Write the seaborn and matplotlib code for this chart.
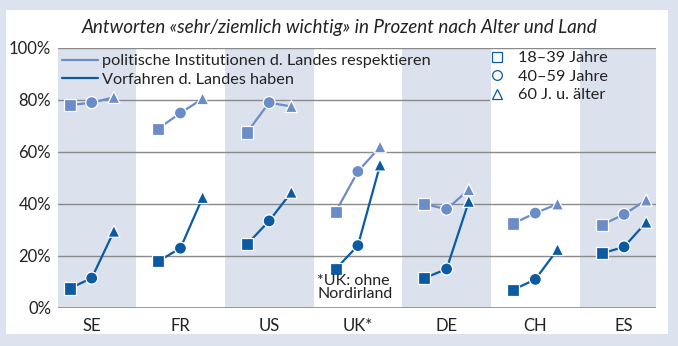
import numpy as np
import pandas as pd
import matplotlib
matplotlib.use("Agg")
import matplotlib.pyplot as plt
from matplotlib.lines import Line2D
from matplotlib.patches import Rectangle
import seaborn as sns

countries = ["SE", "FR", "US", "UK*", "DE", "CH", "ES"]
ages = ["18–39 Jahre", "40–59 Jahre", "60 J. u. älter"]
series_names = ["politische Institutionen d. Landes respektieren", "Vorfahren d. Landes haben"]
institutionen = [
    [78, 79, 81],
    [69, 75, 80.5],
    [67.5, 79, 77.5],
    [37, 52.5, 62],
    [40, 38, 45.5],
    [32.5, 36.5, 40],
    [32, 36, 41.5],
]
vorfahren = [
    [7.5, 11.5, 29.5],
    [18, 23, 42.5],
    [24.5, 33.5, 44.5],
    [15, 24, 55],
    [11.5, 15, 41],
    [7, 11, 22.5],
    [21, 23.5, 33],
]
yticks = [0, 20, 40, 60, 80, 100]
ytick_labels = ["0%", "20%", "40%", "60%", "80%", "100%"]

rows = []
for ci, c in enumerate(countries):
    for ai, a in enumerate(ages):
        rows.append(dict(country=c, ci=ci, age=a, ai=ai, series=series_names[0], value=institutionen[ci][ai]))
        rows.append(dict(country=c, ci=ci, age=a, ai=ai, series=series_names[1], value=vorfahren[ci][ai]))
df = pd.DataFrame(rows)
offsets = {0: -0.25, 1: 0.0, 2: 0.25}
df["x"] = df["ci"] + df["ai"].map(offsets)

sns.set_theme(style="white")
plt.rcParams["font.family"] = ["Lato", "DejaVu Sans"]

light = "#6a8cc8"
dark = "#0b5aa2"
band = "#dce1ee"
bg = "#dde2ef"
txt = "#222222"
colors = {series_names[0]: light, series_names[1]: dark}
markers = {ages[0]: "s", ages[1]: "o", ages[2]: "^"}

fig = plt.figure(figsize=(6.78, 3.46), dpi=100, facecolor=bg)
bgax = fig.add_axes([0, 0, 1, 1], zorder=-5)
bgax.set_axis_off()
bgax.set_xlim(0, 678)
bgax.set_ylim(346, 0)
bgax.add_patch(Rectangle((6, 10), 662, 324, facecolor="white", edgecolor="none"))

AX_L, AX_W = 58, 598
ax = fig.add_axes([AX_L / 678, 1 - 308 / 346, AX_W / 678, 260 / 346], zorder=1)
ax.set_facecolor("none")

xmin, xmax = -0.38, 6.36
ax.set_xlim(xmin, xmax)
ax.set_ylim(0, 100)

for ci in range(len(countries)):
    if ci % 2 == 0:
        ax.axvspan(ci - 0.5, ci + 0.5, color=band, lw=0, zorder=0)

for y in [20, 40, 60]:
    ax.axhline(y, color="#8a8a8a", lw=1.0, zorder=1)
ax.axhline(80, xmin=0, xmax=(489 - AX_L) / AX_W, color="#8a8a8a", lw=1.0, zorder=1)
ax.axhline(100, color="#8a8a8a", lw=1.0, zorder=1)
ax.axhline(0, color="#8a8a8a", lw=1.2, zorder=1)

for s in series_names:
    for c in countries:
        sub = df[(df.series == s) & (df.country == c)]
        sns.lineplot(data=sub, x="x", y="value", color=colors[s], lw=1.6, ax=ax,
                     legend=False, zorder=3, sort=True)
    subs = df[df.series == s]
    sns.scatterplot(data=subs, x="x", y="value", style="age", markers=markers,
                    style_order=ages, color=colors[s], s=75, edgecolor="white",
                    linewidth=0.9, ax=ax, legend=False, zorder=4)

for sp in ax.spines.values():
    sp.set_visible(False)
ax.set_xlabel("")
ax.set_ylabel("")
ax.set_xticks(range(len(countries)))
ax.set_xticklabels(countries, fontsize=12, color=txt)
ax.set_yticks(yticks)
ax.set_yticklabels(ytick_labels, fontsize=12, color=txt)
ax.tick_params(axis="both", length=0, pad=5)
ax.tick_params(axis="x", pad=7)

ax.text(3 - 0.5 + 0.04, 2.5, "*UK: ohne\nNordirland", fontsize=11.5, color=txt,
        ha="left", va="bottom", linespacing=0.92, zorder=5)

fig.text(0.5, 1 - 27 / 346, "Antworten «sehr/ziemlich wichtig» in Prozent nach Alter und Land",
         ha="center", va="center", fontsize=13.6, style="italic", color=txt)

fs = 11.7
h1 = [Line2D([0], [0], color=light, lw=1.6), Line2D([0], [0], color=dark, lw=1.6)]
leg1 = ax.legend(h1, series_names, loc="upper left",
                 bbox_to_anchor=((62 - AX_L) / AX_W, 1.0 - 6 / 260), frameon=False,
                 fontsize=fs, handlelength=2.2, handletextpad=0.25, labelspacing=0.27,
                 borderaxespad=0, borderpad=0, labelcolor=txt)
ax.add_artist(leg1)
h2 = [Line2D([0], [0], marker=m, ls="none", markerfacecolor="none", markeredgecolor=dark,
             markersize=7, markeredgewidth=0.9) for m in ["s", "o", "^"]]
leg2 = ax.legend(h2, ages, loc="upper left",
                 bbox_to_anchor=((490.5 - AX_L) / AX_W, 1.0 - 3 / 260), frameon=False,
                 fontsize=fs, handlelength=0.8, handletextpad=0.9, labelspacing=0.25,
                 borderaxespad=0, borderpad=0, labelcolor=txt)

fig.savefig("out.png", dpi=100, facecolor=bg)
